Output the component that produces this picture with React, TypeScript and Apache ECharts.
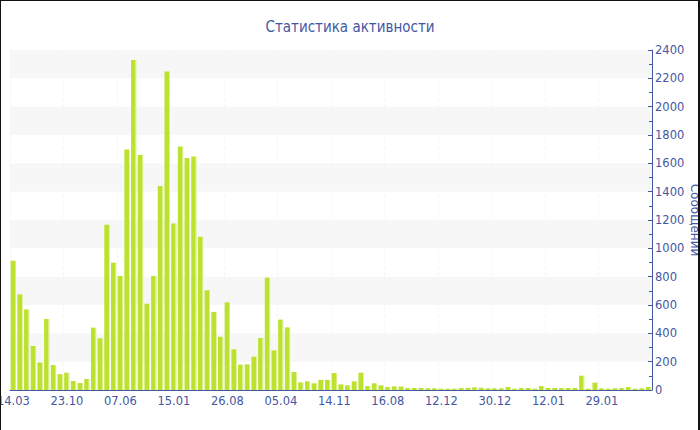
import React, { useEffect, useRef } from "react";
import * as echarts from "echarts";

const titleText = "Статистика активности";
const axisName = "Сообщений";

// labels shown every 8th category
const tickLabels = [
  "14.03", "23.10", "07.06", "15.01", "26.08", "05.04",
  "14.11", "16.08", "12.12", "30.12", "12.01", "29.01",
];

const values = [
  913, 675, 569, 311, 195, 501, 176, 111,
  122, 64, 49, 78, 440, 365, 1167, 899,
  805, 1697, 2330, 1659, 609, 805, 1440, 2249,
  1176, 1718, 1638, 1649, 1082, 704, 551, 376,
  619, 287, 179, 181, 235, 367, 793, 280,
  497, 442, 127, 54, 61, 47, 71, 72,
  120, 40, 33, 61, 122, 28, 47, 33,
  21, 26, 24, 14, 14, 14, 12, 12,
  9, 9, 9, 14, 14, 19, 16, 12,
  12, 12, 21, 9, 14, 14, 9, 28,
  14, 14, 14, 14, 14, 101, 9, 52,
  12, 9, 12, 14, 21, 9, 12, 21,
];

const categories = values.map((_, i) => (i % 8 === 0 ? tickLabels[i / 8] ?? "" : ""));

const BLUE = "#4357a3";
const FONT = "'DejaVu Sans', Verdana, sans-serif";
const TITLE_FONT = "'DejaVu Sans Condensed', 'DejaVu Sans', sans-serif";

export default function App() {
  const ref = useRef<HTMLDivElement>(null);

  useEffect(() => {
    if (!ref.current) return;
    const chart = echarts.init(ref.current, null, { renderer: "svg" });
    chart.setOption({
      animation: false,
      backgroundColor: "#ffffff",
      title: {
        text: titleText,
        left: "center",
        top: 14,
        textStyle: { color: BLUE, fontSize: 15, fontWeight: "normal", fontFamily: TITLE_FONT },
      },
      grid: { left: 10, right: 48, top: 50, bottom: 40, containLabel: false, outerBoundsMode: "none" },
      xAxis: {
        type: "category",
        data: categories,
        boundaryGap: true,
        axisLine: { lineStyle: { color: BLUE, width: 1 } },
        axisTick: { alignWithLabel: true, interval: 7, length: 3, lineStyle: { color: BLUE } },
        axisLabel: { interval: 7, color: BLUE, fontSize: 11.5, margin: 5, fontFamily: FONT, hideOverlap: false },
        splitLine: { show: true, interval: 7, lineStyle: { color: "#f6f6f6", type: "dashed" } },
      },
      yAxis: {
        type: "value",
        position: "right",
        min: 0,
        max: 2400,
        interval: 200,
        name: axisName,
        nameLocation: "middle",
        nameRotate: -90,
        nameGap: 37,
        nameMoveOverlap: false,
        nameTextStyle: { color: BLUE, fontSize: 12, fontFamily: FONT },
        axisLine: { show: true, lineStyle: { color: BLUE, width: 1 } },
        axisTick: { show: true, inside: true, length: 4, lineStyle: { color: BLUE } },
        minorTick: { show: true, splitNumber: 2, length: 3, lineStyle: { color: BLUE } },
        axisLabel: {
          color: BLUE,
          fontSize: 11.5,
          margin: 3,
          fontFamily: FONT,
          formatter: (v: number) => String(v),
        },
        splitLine: { show: false },
        splitArea: { show: true, areaStyle: { color: ["rgba(255,255,255,0)", "#f7f7f7"] } },
      },
      series: [
        {
          type: "bar",
          data: values,
          barCategoryGap: "20%",
          itemStyle: {
            color: new echarts.graphic.LinearGradient(0, 0, 1, 0, [
              { offset: 0, color: "#bce12e" },
              { offset: 0.79, color: "#bce12e" },
              { offset: 0.8, color: "#d6ef84" },
              { offset: 1, color: "#d6ef84" },
            ]),
          },
        },
      ],
    });
    return () => chart.dispose();
  }, []);

  return (
    <div style={{ position: "fixed", left: 0, top: 0, width: 700, height: 430 }}>
      <div ref={ref} style={{ position: "absolute", left: 0, top: 0, width: 700, height: 430 }} />
      <div
        style={{
          position: "absolute",
          left: 0,
          top: 0,
          width: 700,
          height: 430,
          boxSizing: "border-box",
          borderTop: "1px solid #111",
          borderLeft: "1px solid #111",
          borderRight: "2px solid #111",
          pointerEvents: "none",
        }}
      />
    </div>
  );
}
